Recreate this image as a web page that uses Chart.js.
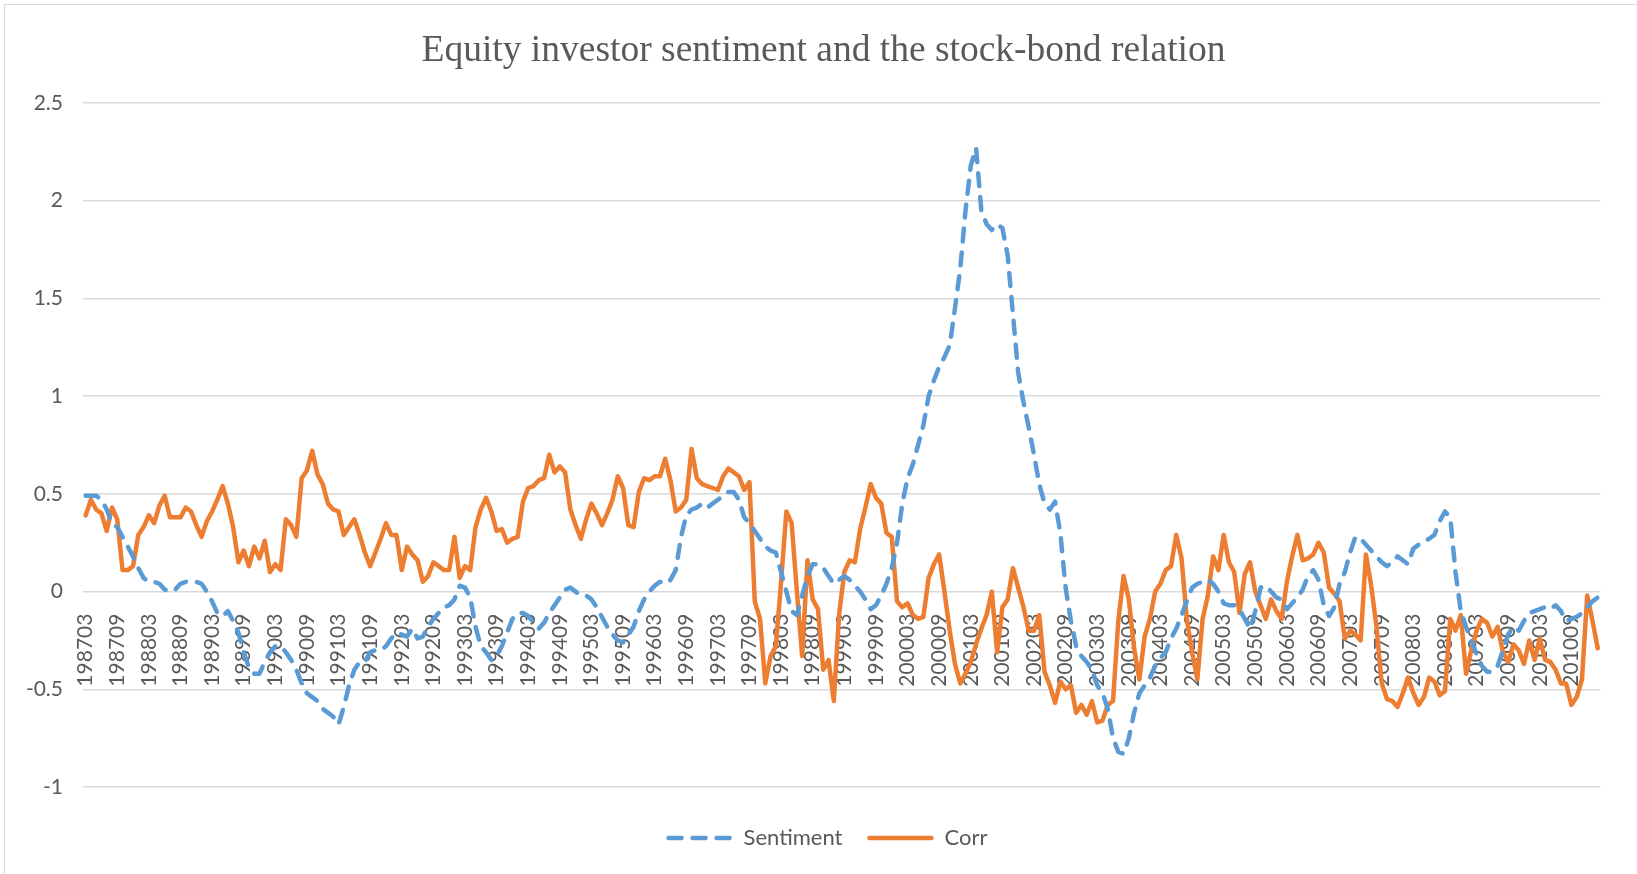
<!DOCTYPE html>
<html>
<head>
<meta charset="utf-8">
<title>Equity investor sentiment and the stock-bond relation</title>
<script src="https://cdn.jsdelivr.net/npm/chart.js@4.4.1/dist/chart.umd.min.js"></script>
<style>
  html, body { margin: 0; padding: 0; background: #fff; overflow: hidden; }
  #frame { position: absolute; left: 4px; top: 4px; width: 1700px; height: 900px; border: 1px solid #d9d9d9; box-sizing: border-box; }
  #wrap { position: absolute; left: 0; top: 0; width: 1637px; height: 874px; }
</style>
</head>
<body>
<div id="frame"></div>
<div id="wrap"><canvas id="chart" width="1637" height="874"></canvas></div>
<script>
const BLUE = '#5B9BD5';
const ORANGE = '#ED7D31';
const TEXT = '#595959';
const TITLE = 'Equity investor sentiment and the stock-bond relation';

// monthly categories, 198703 .. 201102
const months = [];
for (let y = 1987, m = 3; months.length < 288;) {
    months.push(String(y) + String(m).padStart(2, '0'));
    m++;
    if (m > 12) { m = 1; y++; }
}

// one row per 12 months starting at 198703
const sentiment = [
    0.49, 0.49, 0.49, 0.47, 0.42, 0.35, 0.33, 0.28, 0.23, 0.18, 0.12, 0.07,
    0.05, 0.05, 0.04, 0.01, 0.00, 0.01, 0.04, 0.05, 0.05, 0.05, 0.04, 0.00,
    -0.05, -0.11, -0.125, -0.10, -0.15, -0.21, -0.31, -0.39, -0.42, -0.42, -0.36, -0.31,
    -0.28, -0.28, -0.31, -0.35, -0.40, -0.47, -0.52, -0.54, -0.56, -0.60, -0.62, -0.64,
    -0.68, -0.59, -0.48, -0.40, -0.36, -0.36, -0.31, -0.30, -0.30, -0.28, -0.24, -0.21,
    -0.22, -0.23, -0.19, -0.24, -0.23, -0.18, -0.14, -0.11, -0.08, -0.07, -0.04, 0.03,
    0.02, -0.03, -0.18, -0.28, -0.31, -0.35, -0.33, -0.28, -0.21, -0.14, -0.11, -0.11,
    -0.125, -0.16, -0.19, -0.16, -0.11, -0.07, -0.03, 0.01, 0.02, 0.00, -0.02, -0.02,
    -0.04, -0.08, -0.13, -0.18, -0.22, -0.25, -0.26, -0.22, -0.18, -0.10, -0.04, 0.00,
    0.03, 0.05, 0.04, 0.06, 0.11, 0.28, 0.39, 0.42, 0.43, 0.45, 0.43, 0.45,
    0.47, 0.49, 0.51, 0.51, 0.47, 0.38, 0.35, 0.31, 0.27, 0.23, 0.21, 0.20,
    0.10, 0.00, -0.10, -0.12, -0.02, 0.08, 0.14, 0.14, 0.12, 0.08, 0.04, 0.06,
    0.08, 0.06, 0.03, 0.00, -0.04, -0.09, -0.07, -0.02, 0.04, 0.12, 0.25, 0.45,
    0.58, 0.65, 0.75, 0.85, 1.00, 1.08, 1.15, 1.20, 1.26, 1.45, 1.65, 1.95,
    2.18, 2.27, 1.95, 1.88, 1.85, 1.88, 1.86, 1.72, 1.42, 1.12, 0.97, 0.84,
    0.70, 0.55, 0.45, 0.42, 0.46, 0.30, 0.02, -0.15, -0.28, -0.33, -0.36, -0.40,
    -0.48, -0.52, -0.60, -0.75, -0.82, -0.83, -0.75, -0.62, -0.52, -0.48, -0.44, -0.38,
    -0.34, -0.31, -0.24, -0.19, -0.12, -0.05, 0.02, 0.04, 0.05, 0.06, 0.04, 0.00,
    -0.06, -0.07, -0.07, -0.09, -0.14, -0.19, -0.10, 0.02, 0.03, 0.00, -0.03, -0.04,
    -0.09, -0.06, -0.03, 0.01, 0.08, 0.11, 0.06, -0.07, -0.125, -0.08, 0.04, 0.10,
    0.20, 0.28, 0.27, 0.24, 0.21, 0.18, 0.15, 0.13, 0.15, 0.18, 0.16, 0.14,
    0.22, 0.24, 0.26, 0.27, 0.29, 0.36, 0.41, 0.38, 0.10, -0.10, -0.18, -0.25,
    -0.32, -0.38, -0.41, -0.41, -0.38, -0.30, -0.22, -0.18, -0.20, -0.15, -0.11, -0.10,
    -0.09, -0.08, -0.09, -0.07, -0.10, -0.15, -0.14, -0.13, -0.11, -0.08, -0.05, -0.03
];

const corr = [
    0.39, 0.47, 0.42, 0.40, 0.31, 0.43, 0.37, 0.11, 0.11, 0.13, 0.29, 0.33,
    0.39, 0.35, 0.44, 0.49, 0.38, 0.38, 0.38, 0.43, 0.41, 0.34, 0.28, 0.36,
    0.41, 0.47, 0.54, 0.45, 0.33, 0.15, 0.21, 0.13, 0.23, 0.17, 0.26, 0.10,
    0.14, 0.11, 0.37, 0.34, 0.28, 0.58, 0.62, 0.72, 0.60, 0.55, 0.45, 0.42,
    0.41, 0.29, 0.33, 0.37, 0.29, 0.20, 0.13, 0.20, 0.27, 0.35, 0.29, 0.29,
    0.11, 0.23, 0.19, 0.16, 0.05, 0.08, 0.15, 0.13, 0.11, 0.11, 0.28, 0.07,
    0.13, 0.11, 0.33, 0.42, 0.48, 0.41, 0.31, 0.32, 0.25, 0.27, 0.28, 0.46,
    0.53, 0.54, 0.57, 0.58, 0.70, 0.61, 0.64, 0.61, 0.42, 0.34, 0.27, 0.37,
    0.45, 0.40, 0.34, 0.40, 0.47, 0.59, 0.53, 0.34, 0.33, 0.51, 0.58, 0.57,
    0.59, 0.59, 0.68, 0.57, 0.41, 0.43, 0.47, 0.73, 0.58, 0.55, 0.54, 0.53,
    0.52, 0.59, 0.63, 0.61, 0.59, 0.52, 0.56, -0.05, -0.14, -0.47, -0.33, -0.28,
    0.05, 0.41, 0.35, 0.00, -0.33, 0.16, -0.04, -0.09, -0.40, -0.35, -0.56, -0.12,
    0.10, 0.16, 0.15, 0.32, 0.43, 0.55, 0.48, 0.45, 0.30, 0.28, -0.05, -0.08,
    -0.06, -0.12, -0.14, -0.13, 0.07, 0.14, 0.19, 0.00, -0.20, -0.37, -0.47, -0.42,
    -0.36, -0.27, -0.19, -0.12, 0.00, -0.31, -0.08, -0.04, 0.12, 0.02, -0.08, -0.20,
    -0.20, -0.12, -0.41, -0.48, -0.57, -0.46, -0.50, -0.48, -0.62, -0.58, -0.63, -0.56,
    -0.67, -0.66, -0.58, -0.56, -0.15, 0.08, -0.04, -0.29, -0.45, -0.23, -0.14, 0.00,
    0.04, 0.11, 0.13, 0.29, 0.17, -0.14, -0.31, -0.45, -0.14, -0.02, 0.18, 0.11,
    0.29, 0.15, 0.10, -0.11, 0.09, 0.15, 0.00, -0.07, -0.14, -0.04, -0.10, -0.14,
    0.05, 0.18, 0.29, 0.16, 0.17, 0.19, 0.25, 0.20, 0.02, -0.01, -0.05, -0.24,
    -0.20, -0.22, -0.25, 0.19, 0.03, -0.18, -0.47, -0.55, -0.56, -0.59, -0.52, -0.44,
    -0.52, -0.58, -0.54, -0.44, -0.46, -0.53, -0.51, -0.14, -0.20, -0.12, -0.42, -0.30,
    -0.20, -0.14, -0.16, -0.23, -0.18, -0.31, -0.36, -0.27, -0.30, -0.37, -0.25, -0.35,
    -0.24, -0.35, -0.36, -0.40, -0.47, -0.47, -0.58, -0.54, -0.45, -0.02, -0.15, -0.29
];

const yTicks = { min: -1, max: 2.5, step: 0.5 };
const labelEvery = 6;

// title on top and legend under the plot, Excel style (line sample + text)
const titleAndLegend = {
    id: 'titleAndLegend',
    afterDraw(chart) {
        const c = chart.ctx;
        c.save();
        c.fillStyle = TEXT;
        c.textAlign = 'center';
        c.textBaseline = 'middle';
        c.font = "37.5px 'Liberation Serif', 'Times New Roman', serif";
        c.fillText(TITLE, 823.5, 51.5);

        const sample = 66, gap = 11, spacing = 25, cy = 838;
        c.textAlign = 'left';
        c.font = '22px Lato';
        const items = chart.data.datasets.map(ds => ({ ds, w: c.measureText(ds.label).width }));
        const total = items.reduce((s, it) => s + sample + gap + it.w, 0) + spacing * (items.length - 1);
        let x = 827 - total / 2;
        items.forEach(it => {
            c.strokeStyle = it.ds.borderColor;
            c.lineWidth = it.ds.borderWidth;
            c.lineCap = it.ds.borderCapStyle || 'butt';
            c.setLineDash(it.ds.borderDash || []);
            c.beginPath();
            c.moveTo(x + 2, cy);
            c.lineTo(x + sample - 2, cy);
            c.stroke();
            c.setLineDash([]);
            c.fillText(it.ds.label, x + sample + gap, cy);
            x += sample + gap + it.w + spacing;
        });
        c.restore();
    }
};

const ctx = document.getElementById('chart').getContext('2d');
new Chart(ctx, {
    type: 'line',
    data: {
        labels: months,
        datasets: [
            {
                label: 'Sentiment',
                data: sentiment,
                borderColor: BLUE,
                backgroundColor: BLUE,
                borderWidth: 4.5,
                borderDash: [13, 11],
                borderCapStyle: 'round',
                borderJoinStyle: 'round',
                pointRadius: 0,
                tension: 0
            },
            {
                label: 'Corr',
                data: corr,
                borderColor: ORANGE,
                backgroundColor: ORANGE,
                borderWidth: 4.5,
                borderCapStyle: 'round',
                borderJoinStyle: 'round',
                pointRadius: 0,
                tension: 0
            }
        ]
    },
    options: {
        responsive: false,
        animation: false,
        events: [],
        layout: { padding: { left: 23, right: 27, top: 103, bottom: 87 } },
        plugins: {
            legend: { display: false },
            tooltip: { enabled: false },
            title: { display: false }
        },
        scales: {
            x: {
                position: { y: 0 },
                offset: true,
                grid: { display: false },
                border: { display: false },
                ticks: {
                    autoSkip: false,
                    maxRotation: 90,
                    minRotation: 90,
                    padding: 14,
                    color: TEXT,
                    font: { family: 'Lato', size: 21 },
                    callback: (v, i) => (i % labelEvery === 0 ? months[i] : '')
                }
            },
            y: {
                min: yTicks.min,
                max: yTicks.max,
                ticks: {
                    stepSize: yTicks.step,
                    padding: 20,
                    color: TEXT,
                    font: { family: 'Lato', size: 21 },
                    callback: v => String(Math.round(v * 100) / 100)
                },
                grid: { color: '#d9d9d9', lineWidth: 1.5, drawTicks: false },
                border: { display: false },
                afterFit: scale => { scale.width = 60; }
            }
        }
    },
    plugins: [titleAndLegend]
});
</script>
</body>
</html>
